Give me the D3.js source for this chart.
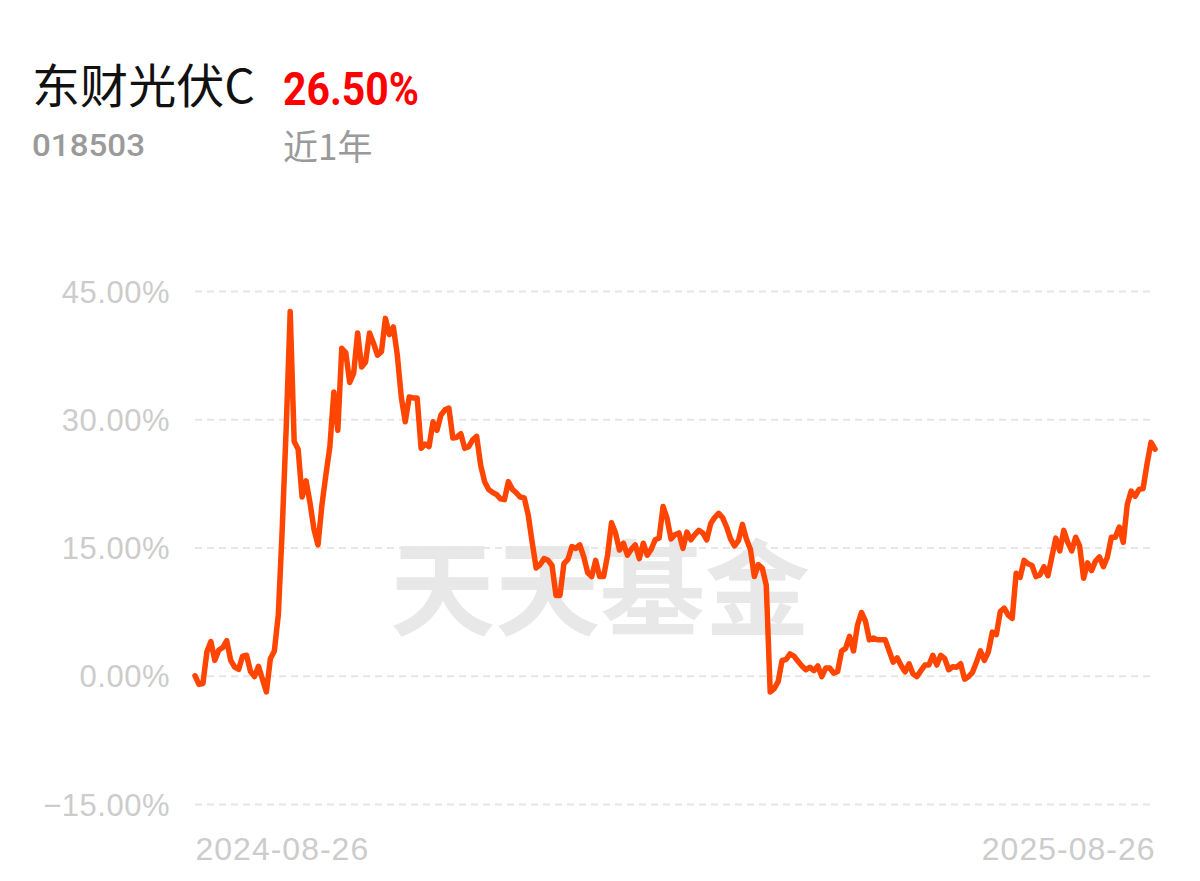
<!DOCTYPE html>
<html>
<head>
<meta charset="utf-8">
<script src="https://cdn.jsdelivr.net/npm/d3@7"></script>
<style>
html,body{margin:0;padding:0;background:#fff;}
svg{display:block;}
</style>
</head>
<body>
<svg id="chart" width="1200" height="881"></svg>
<script>
const fundName = "东财光伏C";
const fundCode = "018503";
const returnText = "26.50%";
const periodText = "近1年";
const watermark = "天天基金";

const yTicks = [-15, 0, 15, 30, 45];
const xTickLabels = ["2024-08-26", "2025-08-26"];

// cumulative return (%) per trading day, 2024-08-26 .. 2025-08-26
const returns = [
  0.0, -1.0, -0.9, 2.8, 4.0, 1.8, 3.0, 3.3, 4.1, 1.8,
  1.0, 0.75, 2.3, 2.4, 0.5, -0.1, 1.1, -0.4, -1.9, 2.0,
  2.9, 7.1, 17.3, 29.1, 42.6, 27.4, 26.5, 20.9, 22.8, 20.2,
  17.1, 15.3, 20.0, 23.5, 26.8, 33.2, 28.7, 38.3, 37.8, 34.3,
  35.4, 40.1, 36.1, 36.7, 40.1, 38.9, 37.5, 37.9, 41.8, 39.9,
  40.8, 37.5, 32.6, 29.7, 32.6, 32.5, 32.5, 26.6, 27.1, 26.8,
  29.7, 28.7, 30.5, 31.1, 31.3, 27.8, 27.9, 28.3, 26.6, 26.8,
  27.6, 28.0, 24.65, 22.7, 21.8, 21.45, 21.2, 20.7, 20.6, 22.7,
  21.8, 21.4, 20.9, 20.8, 18.8, 15.6, 12.6, 13.0, 13.7, 13.5,
  12.9, 9.4, 9.4, 13.1, 13.6, 15.1, 14.9, 15.3, 13.9, 12.05,
  11.6, 13.5, 11.6, 11.6, 14.1, 17.9, 16.7, 14.7, 15.5, 14.1,
  14.8, 15.3, 13.7, 15.5, 14.1, 14.8, 15.9, 16.1, 19.8, 18.4,
  16.0, 16.5, 16.7, 14.9, 16.8, 15.9, 16.5, 17.0, 16.7, 15.9,
  17.8, 18.5, 19.0, 18.5, 17.4, 16.0, 15.2, 15.8, 17.7, 16.0,
  14.8, 11.6, 13.0, 12.6, 10.6, -1.9, -1.5, -0.7, 1.8, 1.9,
  2.55, 2.3, 1.7, 1.15, 0.7, 1.0, 0.6, 1.15, -0.1, 0.9,
  0.9, 0.3, 0.5, 2.9, 3.2, 4.6, 2.9, 5.9, 7.4, 6.4,
  4.2, 4.4, 4.2, 4.2, 4.2, 2.9, 1.6, 2.1, 1.2, 0.45,
  1.4, 0.2, -0.1, 0.6, 1.25, 1.25, 2.4, 1.25, 2.4, 2.0,
  0.7, 1.05, 1.0, 1.4, -0.4, -0.1, 0.4, 1.6, 2.9, 1.8,
  2.8, 5.1, 4.8, 7.5, 7.9, 7.1, 6.7, 12.0, 11.5, 13.5,
  13.1, 12.9, 11.6, 11.8, 12.75, 11.7, 13.9, 16.1, 14.6, 17.0,
  15.6, 14.6, 16.2, 15.2, 11.4, 13.2, 12.3, 13.4, 13.9, 12.75,
  13.9, 16.2, 16.2, 17.4, 15.6, 20.0, 21.6, 21.0, 21.8, 21.9,
  24.8, 27.3, 26.5
];

const svg = d3.select("#chart");
const plot = {left: 195, right: 1155, top: 291, bottom: 804};

const x = d3.scaleLinear().domain([0, returns.length - 1]).range([plot.left, plot.right]);
const y = d3.scaleLinear().domain([-15, 45]).range([plot.bottom, plot.top]);

// Header
svg.append("text").attr("x", 32).attr("y", 103)
  .attr("font-family", "'Noto Sans CJK SC', sans-serif")
  .attr("font-size", 47).attr("fill", "#111")
  .attr("textLength", 223).attr("lengthAdjust", "spacingAndGlyphs")
  .text(fundName);
svg.append("text").attr("x", 283).attr("y", 105)
  .attr("font-family", "Roboto, sans-serif").attr("font-weight", 700)
  .attr("font-size", 46).attr("fill", "#ff0000")
  .attr("textLength", 136).attr("lengthAdjust", "spacingAndGlyphs")
  .text(returnText);
svg.append("text").attr("x", 32).attr("y", 156)
  .attr("font-family", "Roboto, sans-serif").attr("font-weight", 500)
  .attr("font-size", 32).attr("fill", "#9a9a9a")
  .attr("textLength", 113).attr("lengthAdjust", "spacingAndGlyphs")
  .text(fundCode);
svg.append("text").attr("x", 283).attr("y", 160)
  .attr("font-family", "'Noto Sans CJK SC', sans-serif")
  .attr("font-size", 35).attr("fill", "#9a9a9a").text(periodText);

// Watermark
svg.append("text").attr("x", 390).attr("y", 628)
  .attr("font-family", "'Noto Sans CJK SC', sans-serif").attr("font-weight", 700)
  .attr("font-size", 104).attr("fill", "#e8e8e8")
  .attr("textLength", 420).attr("lengthAdjust", "spacingAndGlyphs")
  .text(watermark);

// Y axis with gridlines
const yAxis = d3.axisLeft(y).tickValues(yTicks)
  .tickSizeInner(-(1153 - plot.left)).tickSizeOuter(0).tickPadding(25)
  .tickFormat(d => d3.format(".2f")(d) + "%");
const gy = svg.append("g").attr("transform", `translate(${plot.left},0)`).call(yAxis);
gy.select(".domain").remove();
gy.selectAll(".tick line").attr("stroke", "#e6e6e6").attr("stroke-width", 2).attr("stroke-dasharray", "7,5");
gy.selectAll(".tick text").attr("fill", "#cccccc")
  .attr("font-family", "'Liberation Sans', Arial, sans-serif").attr("font-size", 31)
  .attr("letter-spacing", 0.5).attr("dy", "0.36em");

// X axis labels
const xAxis = d3.axisBottom(x).tickValues([0, returns.length - 1])
  .tickSize(0).tickPadding(0).tickFormat((d, i) => xTickLabels[i]);
const gx = svg.append("g").attr("transform", `translate(0,${plot.bottom})`).call(xAxis);
gx.select(".domain").remove();
gx.selectAll(".tick text").attr("fill", "#cccccc")
  .attr("font-family", "'Liberation Sans', Arial, sans-serif").attr("font-size", 32)
  .attr("letter-spacing", 1).attr("dy", 0).attr("y", 56)
  .attr("text-anchor", (d, i) => i === 0 ? "start" : "end");

// Line
const line = d3.line().x((d, i) => x(i)).y(d => y(d));
svg.append("path").datum(returns)
  .attr("d", line).attr("fill", "none")
  .attr("stroke", "#ff4500").attr("stroke-width", 5.5)
  .attr("stroke-linejoin", "round").attr("stroke-linecap", "round");
</script>
</body>
</html>
